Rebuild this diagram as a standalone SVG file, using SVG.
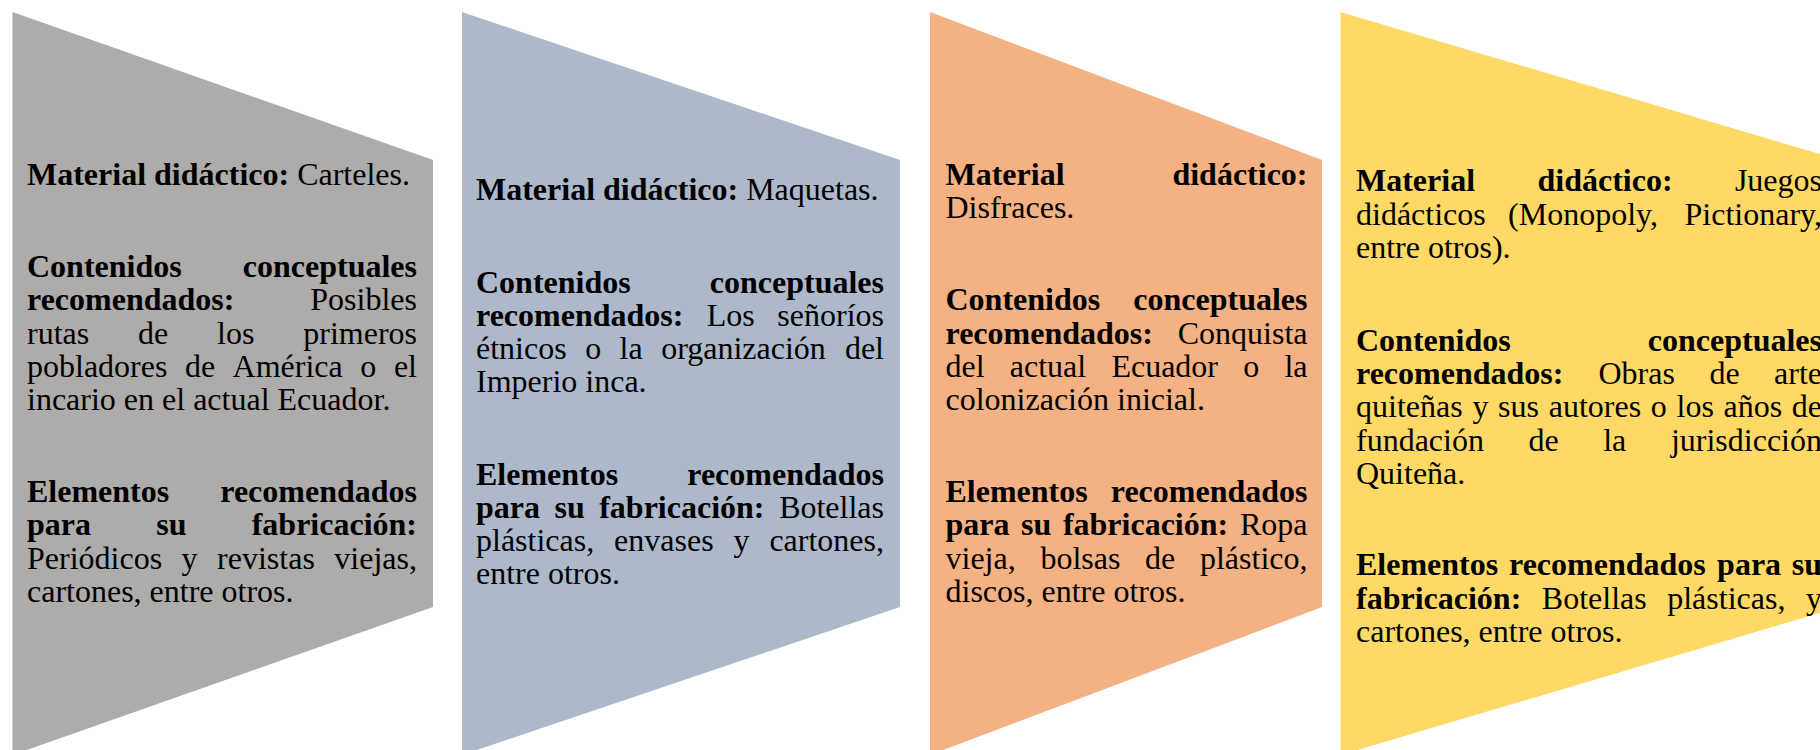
<svg xmlns="http://www.w3.org/2000/svg" width="1820" height="750" viewBox="0 0 1820 750">
<style>
text{font-family:"Liberation Serif","Times New Roman",serif;font-size:32px;fill:#000}
.b{font-weight:bold}
.e{text-anchor:end}
</style>
<rect width="1820" height="750" fill="#fff"/>
<g id="node1">
<polygon points="12.5,12 433,160 433,607 12.5,755" fill="#AEABAB"/>
<text x="27" y="185"><tspan class="b">Material didáctico:</tspan> Carteles.</text>
<text y="277"><tspan x="27" class="b">Contenidos</tspan><tspan x="417" class="b e">conceptuales</tspan></text>
<text y="310.3"><tspan x="27" class="b">recomendados:</tspan><tspan x="417" class="e">Posibles</tspan></text>
<text y="343.6"><tspan x="27">rutas</tspan><tspan x="138">de</tspan><tspan x="217">los</tspan><tspan x="417" class="e">primeros</tspan></text>
<text y="376.9"><tspan x="27">pobladores</tspan><tspan x="184.9">de</tspan><tspan x="232.6">América</tspan><tspan x="360.3">o</tspan><tspan x="417" class="e">el</tspan></text>
<text x="27" y="410.2">incario en el actual Ecuador.</text>
<text y="502"><tspan x="27" class="b">Elementos</tspan><tspan x="417" class="b e">recomendados</tspan></text>
<text y="535.3"><tspan x="27" class="b">para</tspan><tspan x="156.3" class="b">su</tspan><tspan x="417" class="b e">fabricación:</tspan></text>
<text y="568.6"><tspan x="27">Periódicos</tspan><tspan x="181.6">y</tspan><tspan x="217.1">revistas</tspan><tspan x="417" class="e">viejas,</tspan></text>
<text x="27" y="601.9">cartones, entre otros.</text>
</g>
<g id="node2">
<polygon points="462,12 900,160 900,607 462,755" fill="#ADB9CA"/>
<text x="476" y="200"><tspan class="b">Material didáctico:</tspan> Maquetas.</text>
<text y="292.5"><tspan x="476" class="b">Contenidos</tspan><tspan x="884" class="b e">conceptuales</tspan></text>
<text y="325.8"><tspan x="476" class="b">recomendados:</tspan><tspan x="706.7">Los</tspan><tspan x="884" class="e">señoríos</tspan></text>
<text y="359.1"><tspan x="476">étnicos</tspan><tspan x="585.2">o</tspan><tspan x="619.6">la</tspan><tspan x="661.2">organización</tspan><tspan x="884" class="e">del</tspan></text>
<text x="476" y="392.4">Imperio inca.</text>
<text y="484.5"><tspan x="476" class="b">Elementos</tspan><tspan x="884" class="b e">recomendados</tspan></text>
<text y="517.8"><tspan x="476" class="b">para</tspan><tspan x="554.5" class="b">su</tspan><tspan x="599.2" class="b">fabricación:</tspan><tspan x="884" class="e">Botellas</tspan></text>
<text y="551.1"><tspan x="476">plásticas,</tspan><tspan x="614.1">envases</tspan><tspan x="733.5">y</tspan><tspan x="884" class="e">cartones,</tspan></text>
<text x="476" y="584.4">entre otros.</text>
</g>
<g id="node3">
<polygon points="930,12 1322,160 1322,607 930,755" fill="#F4B183"/>
<text y="185"><tspan x="945.5" class="b">Material</tspan><tspan x="1307.5" class="b e">didáctico:</tspan></text>
<text x="945.5" y="218.3">Disfraces.</text>
<text y="310.3"><tspan x="945.5" class="b">Contenidos</tspan><tspan x="1307.5" class="b e">conceptuales</tspan></text>
<text y="343.6"><tspan x="945.5" class="b">recomendados:</tspan><tspan x="1307.5" class="e">Conquista</tspan></text>
<text y="376.9"><tspan x="945.5">del</tspan><tspan x="1009.8">actual</tspan><tspan x="1111.4">Ecuador</tspan><tspan x="1243.2">o</tspan><tspan x="1307.5" class="e">la</tspan></text>
<text x="945.5" y="410.2">colonización inicial.</text>
<text y="502"><tspan x="945.5" class="b">Elementos</tspan><tspan x="1307.5" class="b e">recomendados</tspan></text>
<text y="535.3"><tspan x="945.5" class="b">para</tspan><tspan x="1021.1" class="b">su</tspan><tspan x="1062.9" class="b">fabricación:</tspan><tspan x="1307.5" class="e">Ropa</tspan></text>
<text y="568.6"><tspan x="945.5">vieja,</tspan><tspan x="1040.4">bolsas</tspan><tspan x="1145.1">de</tspan><tspan x="1307.5" class="e">plástico,</tspan></text>
<text x="945.5" y="601.9">discos, entre otros.</text>
</g>
<g id="node4">
<polygon points="1340.5,12 1840,160 1840,607 1340.5,755" fill="#FFD966"/>
<text y="191.3"><tspan x="1356" class="b">Material</tspan><tspan x="1537.5" class="b">didáctico:</tspan><tspan x="1822" class="e">Juegos</tspan></text>
<text y="224.6"><tspan x="1356">didácticos</tspan><tspan x="1508.1">(Monopoly,</tspan><tspan x="1822" class="e">Pictionary,</tspan></text>
<text x="1356" y="257.9">entre otros).</text>
<text y="350.6"><tspan x="1356" class="b">Contenidos</tspan><tspan x="1822" class="b e">conceptuales</tspan></text>
<text y="383.9"><tspan x="1356" class="b">recomendados:</tspan><tspan x="1598.5">Obras</tspan><tspan x="1709.4">de</tspan><tspan x="1822" class="e">arte</tspan></text>
<text y="417.2"><tspan x="1356">quiteñas</tspan><tspan x="1472.4">y</tspan><tspan x="1498.1">sus</tspan><tspan x="1548.7">autores</tspan><tspan x="1650.8">o</tspan><tspan x="1676.5">los</tspan><tspan x="1723.5">años</tspan><tspan x="1822" class="e">de</tspan></text>
<text y="450.5"><tspan x="1356">fundación</tspan><tspan x="1528.5">de</tspan><tspan x="1603.2">la</tspan><tspan x="1822" class="e">jurisdicción</tspan></text>
<text x="1356" y="483.8">Quiteña.</text>
<text y="575.4"><tspan x="1356" class="b">Elementos</tspan><tspan x="1509" class="b">recomendados</tspan><tspan x="1717.1" class="b">para</tspan><tspan x="1822" class="b e">su</tspan></text>
<text y="608.7"><tspan x="1356" class="b">fabricación:</tspan><tspan x="1541.8">Botellas</tspan><tspan x="1667.2">plásticas,</tspan><tspan x="1822" class="e">y</tspan></text>
<text x="1356" y="642">cartones, entre otros.</text>
</g>
</svg>
